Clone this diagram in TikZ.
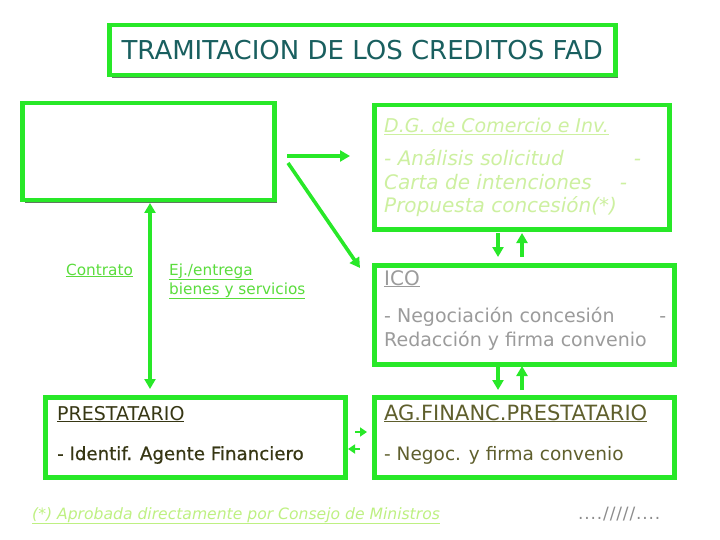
\documentclass[tikz,border=0pt]{standalone}
\usepackage{fontspec}
\setmainfont{DejaVu Sans}
\usetikzlibrary{arrows.meta,shadows}

\definecolor{boxgreen}{RGB}{40,232,40}
\definecolor{shadowgray}{RGB}{95,120,95}
\definecolor{titleteal}{RGB}{25,95,95}
\definecolor{paleleaf}{RGB}{205,240,160}
\definecolor{labelgreen}{RGB}{90,220,60}
\definecolor{icogray}{RGB}{155,155,155}
\definecolor{prestdark}{RGB}{55,55,20}
\definecolor{agolive}{RGB}{95,95,45}
\definecolor{notegreen}{RGB}{190,240,130}
\definecolor{dotgray}{RGB}{140,140,140}

\tikzset{
  greenbox/.style={draw=boxgreen, line width=4.5pt, fill=white, rectangle, inner sep=0pt,
    anchor=north west,
    drop shadow={shadow xshift=3pt, shadow yshift=-3pt, fill=shadowgray, opacity=1}},
  garrow/.style={draw=boxgreen, line width=3.6pt, -{Triangle[length=10pt,width=11pt]}},
  txt/.style={anchor=base west, inner sep=0pt},
}

\begin{document}
\begin{tikzpicture}[x=1pt,y=-1pt]
\useasboundingbox (0,0) rectangle (720,540);

% cajas
\node[greenbox, minimum width=506pt, minimum height=50pt] (titulo) at (107,23) {};
\node[greenbox, minimum width=252pt, minimum height=97pt] (vacia) at (20,101) {};
\node[greenbox, minimum width=295pt, minimum height=124pt] (dg) at (372,103) {};
\node[greenbox, minimum width=300pt, minimum height=99pt] (ico) at (372,263) {};
\node[greenbox, minimum width=300pt, minimum height=80pt] (prest) at (43,395) {};
\node[greenbox, minimum width=300pt, minimum height=80pt] (ag) at (372,395) {};

% textos
\node[text=titleteal, font=\fontsize{26}{28}\selectfont] (tit) at (titulo.center) {TRAMITACION DE LOS CREDITOS FAD};

\node[txt, text=paleleaf, font=\fontsize{19}{22}\selectfont\itshape] (dgcab) at (384,133) {\underline{D.G. de Comercio e Inv.}};
\node[txt, text=paleleaf, font=\fontsize{20}{22}\selectfont\itshape] (dg1) at (384,166) {\makebox[257pt][l]{- Análisis solicitud\hfill-}};
\node[txt, text=paleleaf, font=\fontsize{20}{22}\selectfont\itshape] (dg2) at (384,190) {\makebox[243pt][l]{Carta de intenciones\hfill-}};
\node[txt, text=paleleaf, font=\fontsize{20}{22}\selectfont\itshape] (dg3) at (384,213) {Propuesta concesión(*)};

\node[txt, text=labelgreen, font=\fontsize{15.3}{18}\selectfont] (contrato) at (66,275) {\underline{Contrato}};
\node[txt, text=labelgreen, font=\fontsize{15.3}{18}\selectfont] (ej1) at (169,275) {\underline{Ej./entrega}};
\node[txt, text=labelgreen, font=\fontsize{15.3}{18}\selectfont] (ej2) at (169,294) {\underline{bienes y servicios}};

\node[txt, text=icogray, font=\fontsize{20}{22}\selectfont] (icocab) at (384,285) {\underline{ICO}};
\node[txt, text=icogray, font=\fontsize{19}{22}\selectfont] (ico1) at (384,322) {\makebox[282pt][l]{- Negociación concesión\hfill-}};
\node[txt, text=icogray, font=\fontsize{19}{22}\selectfont] (ico2) at (384,346) {Redacción y firma convenio};

\node[txt, text=prestdark, font=\fontsize{19}{22}\selectfont] (prestcab) at (57,420) {\underline{PRESTATARIO}};
\node[txt, text=prestdark, font=\fontsize{18.2}{22}\selectfont\addfontfeature{FakeBold=0.6}] (prest1) at (57,460) {- Identif. Agente Financiero};
\node[txt, text=agolive, font=\fontsize{21}{22}\selectfont] (agcab) at (384,420) {\underline{AG.FINANC.PRESTATARIO}};
\node[txt, text=agolive, font=\fontsize{18.5}{22}\selectfont] (ag1) at (384,460) {- Negoc. y firma convenio};

\node[txt, text=notegreen, font=\fontsize{15.6}{18}\selectfont\itshape] (nota) at (32,519) {\underline{(*) Aprobada directamente por Consejo de Ministros}};
\node[txt, text=dotgray, font=\fontsize{17}{18}\selectfont\addfontfeature{LetterSpace=5}] (fin) at (578,519) {..../////....};

% flechas
\coordinate (h0) at (287,156);
\coordinate (h1) at (350,156);
\coordinate (d0) at (288,163);
\coordinate (d1) at (360,268);
\coordinate (v0) at (150,203);
\coordinate (v1) at (150,389);
\coordinate (a0) at (498,233);
\coordinate (a1) at (498,257);
\coordinate (b0) at (522,257);
\coordinate (b1) at (522,233);
\coordinate (c0) at (498,366);
\coordinate (c1) at (498,390);
\coordinate (e0) at (522,390);
\coordinate (e1) at (522,366);
\coordinate (r0) at (355,432);
\coordinate (r1) at (367,432);
\coordinate (l0) at (360,449);
\coordinate (l1) at (348,449);

\draw[garrow] (h0) -- (h1);
\draw[garrow] (d0) -- (d1);
\draw[garrow, {Triangle[length=10pt,width=11pt]}-{Triangle[length=10pt,width=11pt]}] (v0) -- (v1);
\draw[garrow] (a0) -- (a1);
\draw[garrow] (b0) -- (b1);
\draw[garrow] (c0) -- (c1);
\draw[garrow] (e0) -- (e1);
\draw[garrow, line width=2.5pt, -{Triangle[length=7pt,width=9pt]}] (r0) -- (r1);
\draw[garrow, line width=2.5pt, -{Triangle[length=7pt,width=9pt]}] (l0) -- (l1);
\end{tikzpicture}
\end{document}
